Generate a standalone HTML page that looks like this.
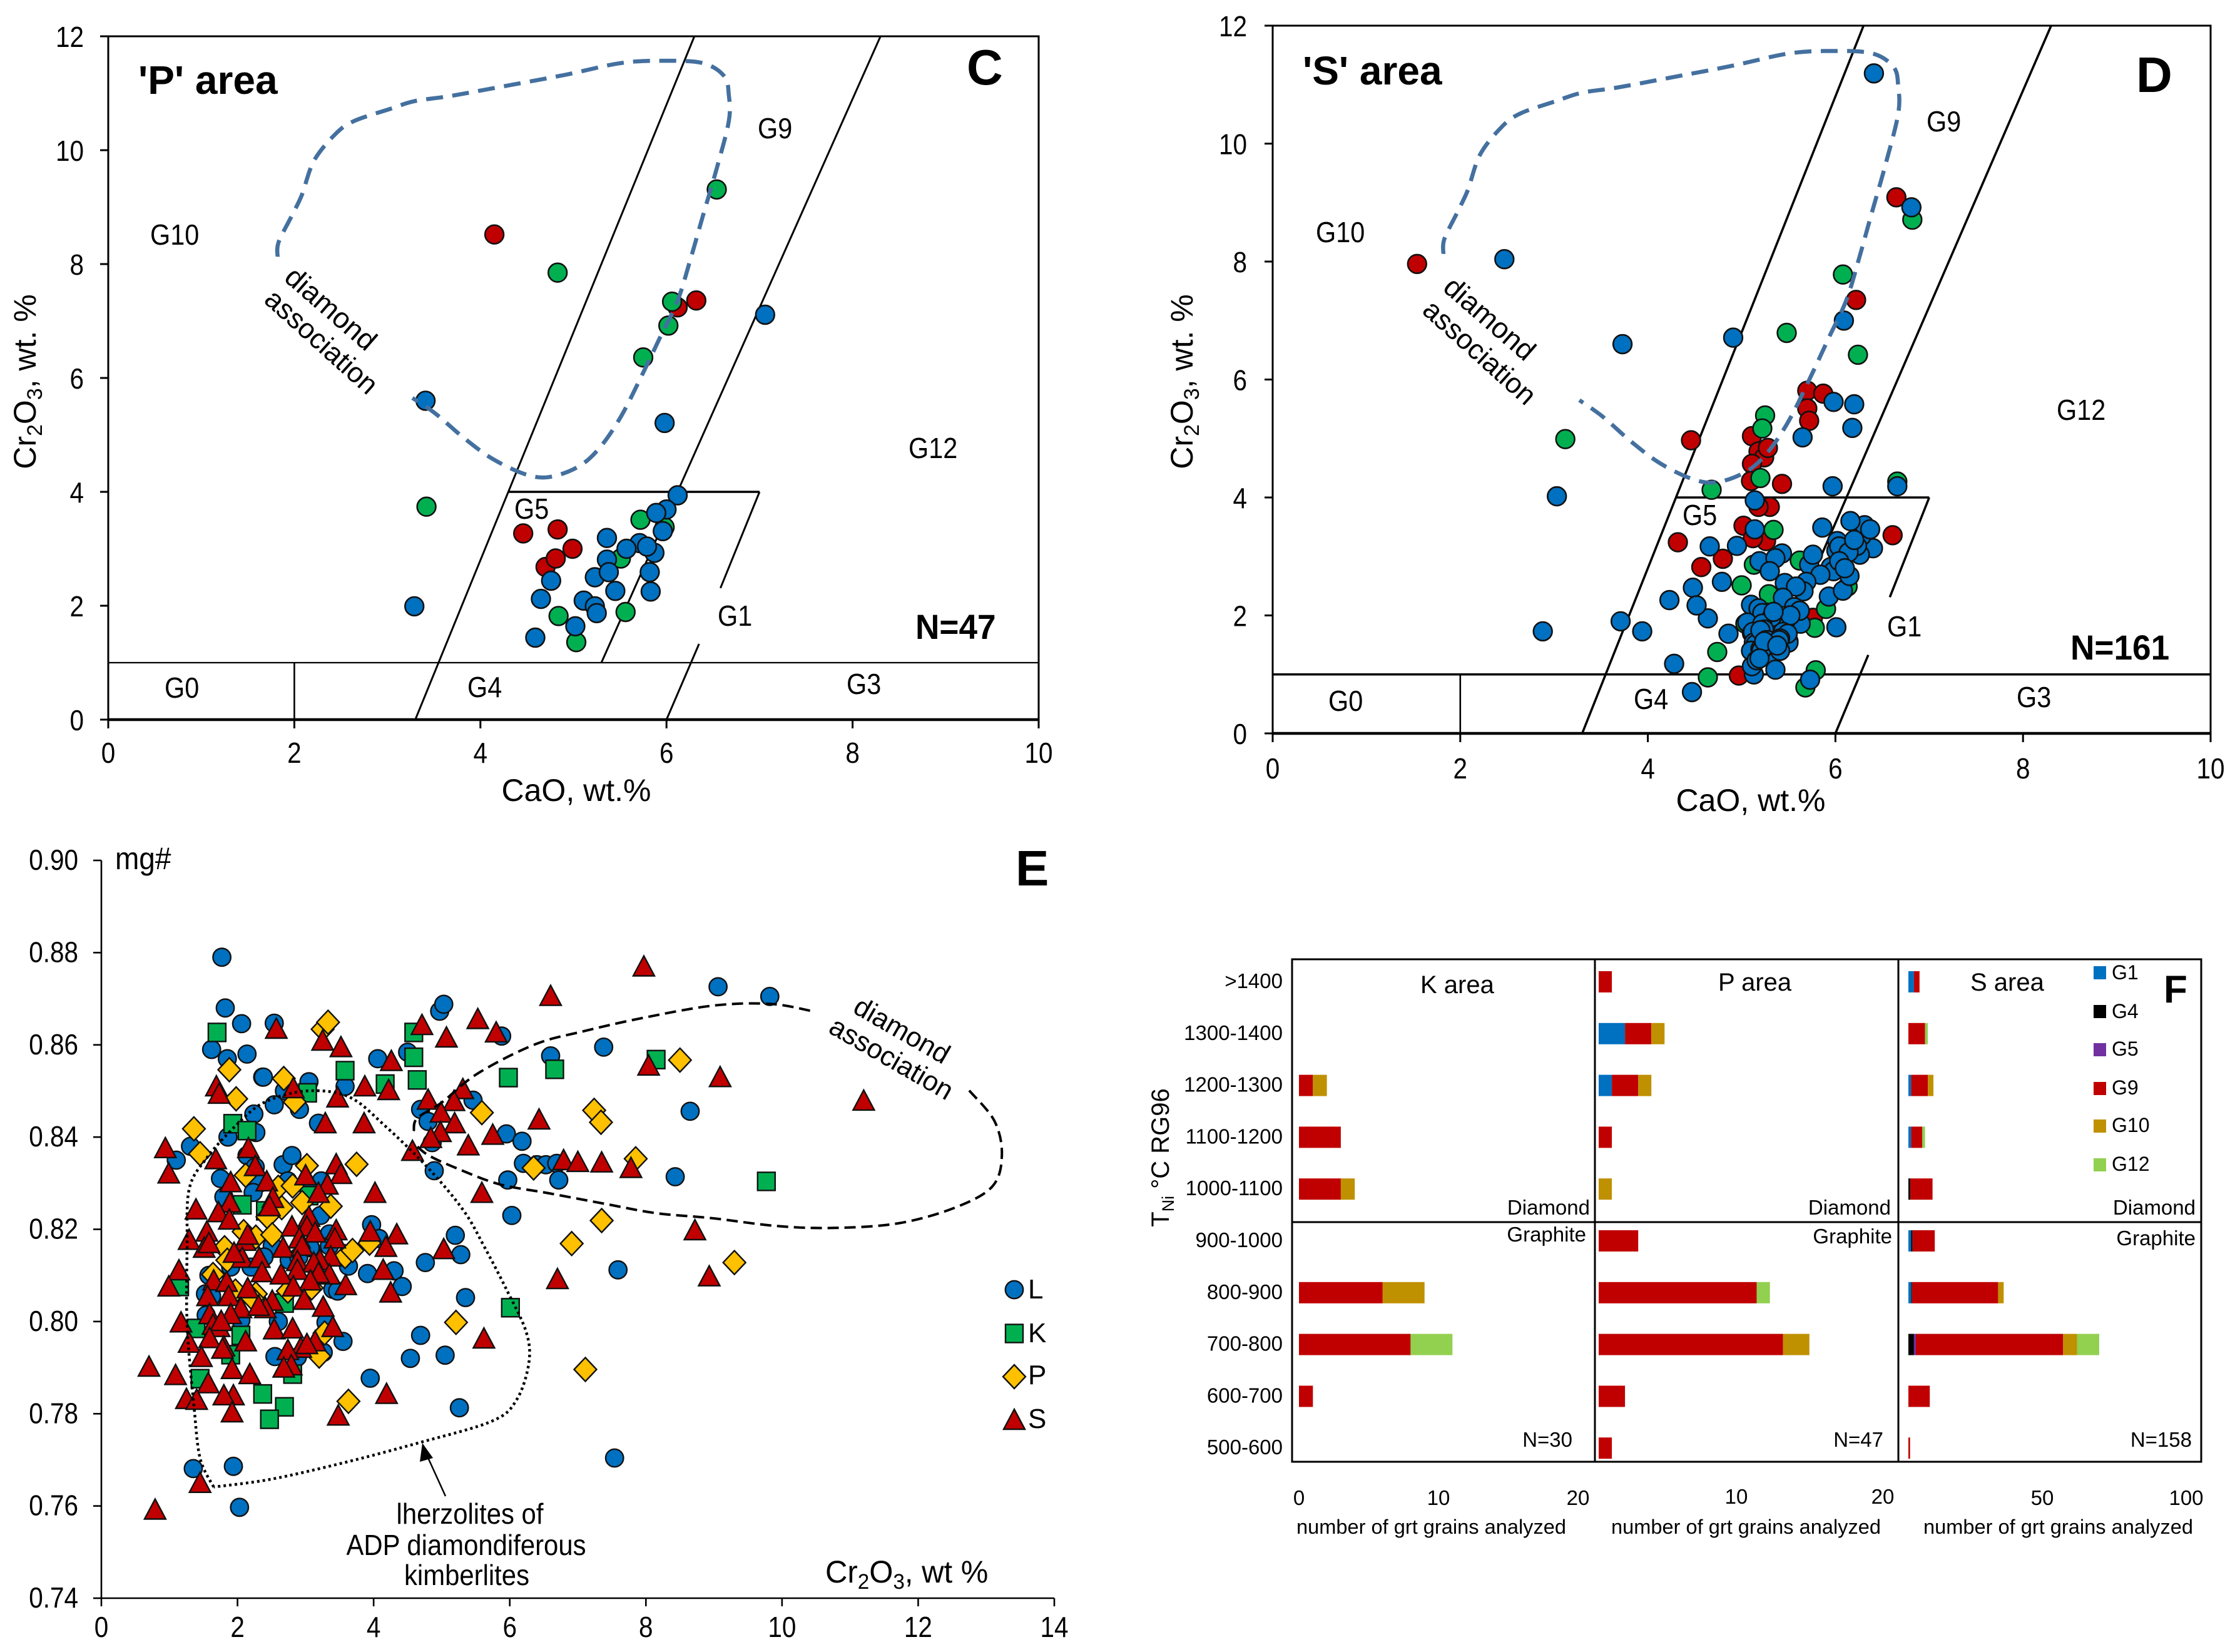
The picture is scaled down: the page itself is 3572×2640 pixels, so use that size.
<!DOCTYPE html>
<html lang="en">
<head>
<meta charset="utf-8">
<title>Garnet geochemistry panels C, D, E and F</title>
<style>
html,body{margin:0;padding:0;background:#fff;}
svg{display:block;}
text{font-family:"Liberation Sans",Arial,sans-serif;fill:#000;}
.b{font-weight:bold;}
</style>
</head>
<body>
<svg id="fig" xmlns="http://www.w3.org/2000/svg" width="3572" height="2640" viewBox="0 0 3572 2640">
<rect x="0" y="0" width="3572" height="2640" fill="#fff"/>

<g id="panelC">
  <g id="cAxes"></g>
  <g id="cMarks"></g>
  <g id="cCurve"></g>
  <text class="b" x="221" y="150" font-size="64">'P' area</text>
  <text class="b" x="1545" y="135" font-size="80">C</text>
  <text class="b" transform="translate(1463,1021) scale(.95,1)" font-size="56">N=47</text>
  <text transform="translate(1211,221) scale(.9,1)" font-size="46">G9</text>
  <text transform="translate(240,391) scale(.9,1)" font-size="46">G10</text>
  <text transform="translate(1452,732) scale(.9,1)" font-size="46">G12</text>
  <text transform="translate(822,829) scale(.9,1)" font-size="46">G5</text>
  <text transform="translate(1147,1000) scale(.9,1)" font-size="46">G1</text>
  <text transform="translate(263,1115) scale(.9,1)" font-size="46">G0</text>
  <text transform="translate(747,1114) scale(.9,1)" font-size="46">G4</text>
  <text transform="translate(1353,1109) scale(.9,1)" font-size="46">G3</text>
  <text x="921" y="1280" text-anchor="middle" font-size="50">CaO, wt.%</text>
  <text transform="translate(57,610) rotate(-90)" text-anchor="middle" font-size="50">Cr<tspan dy="10" font-size="34">2</tspan><tspan dy="-10">O</tspan><tspan dy="10" font-size="34">3</tspan><tspan dy="-10">, wt. %</tspan></text>
  <text transform="translate(452,447) rotate(41)" font-size="46">diamond</text>
  <text transform="translate(420,482) rotate(42)" font-size="45">association</text>
</g>

<g id="panelD">
  <g id="dAxes"></g>
  <g id="dMarks"></g>
  <g id="dCurve"></g>
  <text class="b" x="2082" y="135" font-size="64">'S' area</text>
  <text class="b" x="3414" y="147" font-size="80">D</text>
  <text class="b" transform="translate(3309,1054) scale(.95,1)" font-size="56">N=161</text>
  <text transform="translate(3079,210) scale(.9,1)" font-size="46">G9</text>
  <text transform="translate(2103,387) scale(.9,1)" font-size="46">G10</text>
  <text transform="translate(3287,671) scale(.9,1)" font-size="46">G12</text>
  <text transform="translate(2689,839) scale(.9,1)" font-size="46">G5</text>
  <text transform="translate(3016,1017) scale(.9,1)" font-size="46">G1</text>
  <text transform="translate(2123,1136) scale(.9,1)" font-size="46">G0</text>
  <text transform="translate(2611,1133) scale(.9,1)" font-size="46">G4</text>
  <text transform="translate(3223,1130) scale(.9,1)" font-size="46">G3</text>
  <text x="2798" y="1296" text-anchor="middle" font-size="50">CaO, wt.%</text>
  <text transform="translate(1906,610) rotate(-90)" text-anchor="middle" font-size="50">Cr<tspan dy="10" font-size="34">2</tspan><tspan dy="-10">O</tspan><tspan dy="10" font-size="34">3</tspan><tspan dy="-10">, wt. %</tspan></text>
  <text transform="translate(2304,463) rotate(41)" font-size="46">diamond</text>
  <text transform="translate(2271,499) rotate(42)" font-size="45">association</text>
</g>

<g id="panelE">
  <g id="eAxes"></g>
  <g id="eMarks"></g>
  <g id="eCurve"></g>
  <text transform="translate(184,1389) scale(.92,1)" font-size="50">mg#</text>
  <text class="b" x="1623" y="1415" font-size="80">E</text>
  <text transform="translate(1319,2529) scale(.98,1)" font-size="50">Cr<tspan dy="10" font-size="34">2</tspan><tspan dy="-10">O</tspan><tspan dy="10" font-size="34">3</tspan><tspan dy="-10">, wt %</tspan></text>
  <text transform="translate(751,2435) scale(.91,1)" text-anchor="middle" font-size="46">lherzolites of</text>
  <text transform="translate(745,2485) scale(.91,1)" text-anchor="middle" font-size="46">ADP diamondiferous</text>
  <text transform="translate(746,2533) scale(.91,1)" text-anchor="middle" font-size="46">kimberlites</text>
  <text transform="translate(1361,1617) rotate(30)" font-size="44">diamond</text>
  <text transform="translate(1322,1649) rotate(30)" font-size="44">association</text>
  <line x1="712" y1="2391" x2="682" y2="2325" stroke="#000" stroke-width="2.5"/>
  <polygon points="675,2306 692,2330 671,2336" fill="#000"/>
  <g id="eLegend">
    <text x="1643" y="2075" font-size="44">L</text>
    <text x="1643" y="2145" font-size="44">K</text>
    <text x="1643" y="2212" font-size="44">P</text>
    <text x="1643" y="2282" font-size="44">S</text>
  </g>
</g>

<g id="panelF">
  <g id="fBars"></g>
  <rect x="2065" y="1533" width="1453" height="803" fill="none" stroke="#000" stroke-width="3"/>
  <line x1="2549" y1="1533" x2="2549" y2="2336" stroke="#000" stroke-width="3"/>
  <line x1="3034" y1="1533" x2="3034" y2="2336" stroke="#000" stroke-width="3"/>
  <line x1="2065" y1="1953" x2="3518" y2="1953" stroke="#000" stroke-width="3"/>
  <g id="fAxes"></g>
  <text transform="translate(1868,1850) rotate(-90)" text-anchor="middle" font-size="40">T<tspan dy="8" font-size="27">Ni</tspan><tspan dy="-8"> °C RG96</tspan></text>
  <text x="2270" y="1587" font-size="40">K area</text>
  <text x="2746" y="1583" font-size="40">P area</text>
  <text x="3149" y="1583" font-size="40">S area</text>
  <text class="b" x="3458" y="1602" font-size="62">F</text>
  <text x="2541" y="1941" text-anchor="end" font-size="33">Diamond</text>
  <text x="3022" y="1941" text-anchor="end" font-size="33">Diamond</text>
  <text x="3509" y="1941" text-anchor="end" font-size="33">Diamond</text>
  <text x="2535" y="1984" text-anchor="end" font-size="33">Graphite</text>
  <text x="3024" y="1987" text-anchor="end" font-size="33">Graphite</text>
  <text x="3509" y="1990" text-anchor="end" font-size="33">Graphite</text>
  <text x="2513" y="2312" text-anchor="end" font-size="33">N=30</text>
  <text x="3010" y="2312" text-anchor="end" font-size="33">N=47</text>
  <text x="3503" y="2312" text-anchor="end" font-size="33">N=158</text>
  <text x="2072" y="2451" font-size="32.6">number of grt grains analyzed</text>
  <text x="2575" y="2451" font-size="32.6">number of grt grains analyzed</text>
  <text x="3074" y="2451" font-size="32.6">number of grt grains analyzed</text>
  <g id="fLegend">
    <rect x="3346" y="1544" width="20" height="21" fill="#0070C0"/>
    <text x="3375" y="1565" font-size="32">G1</text>
    <rect x="3346" y="1606" width="20" height="21" fill="#000"/>
    <text x="3375" y="1627" font-size="32">G4</text>
    <rect x="3346" y="1667" width="20" height="21" fill="#7030A0"/>
    <text x="3375" y="1687" font-size="32">G5</text>
    <rect x="3346" y="1729" width="20" height="21" fill="#C00000"/>
    <text x="3375" y="1749" font-size="32">G9</text>
    <rect x="3346" y="1789" width="20" height="21" fill="#BF9000"/>
    <text x="3375" y="1809" font-size="32">G10</text>
    <rect x="3346" y="1851" width="20" height="21" fill="#92D050"/>
    <text x="3375" y="1871" font-size="32">G12</text>
  </g>
</g>
</svg>

<script>
// ---------- Shared axis tick data ----------
const cdXTicks = [0, 2, 4, 6, 8, 10];
const cdYTicks = [0, 2, 4, 6, 8, 10, 12];
const eXTicks = [0, 2, 4, 6, 8, 10, 12, 14];
const eYTicks = [0.74, 0.76, 0.78, 0.80, 0.82, 0.84, 0.86, 0.88, 0.90];

// ---------- Panel C series [CaO, Cr2O3] ----------
const cRed = [[4.15,8.52],[6.32,7.36],[6.12,7.24],[4.46,3.27],[4.83,3.34],[4.99,3.0],[4.70,2.68],[4.81,2.83]];
const cGreen = [[6.54,9.31],[4.83,7.85],[6.06,7.34],[6.02,6.92],[5.75,6.36],[3.42,3.74],[5.72,3.51],[5.98,3.38],[5.51,2.83],[5.56,1.89],[4.84,1.82],[5.03,1.36]];
const cBlue = [[7.06,7.11],[3.41,5.6],[5.98,5.21],[6.12,3.94],[6.0,3.69],[5.89,3.63],[5.96,3.31],[5.36,3.19],[5.71,3.1],[5.57,3.0],[5.87,2.93],[5.79,3.04],[5.36,2.81],[5.82,2.59],[5.23,2.5],[5.38,2.59],[4.76,2.44],[5.45,2.26],[5.83,2.25],[4.65,2.12],[5.11,2.09],[5.23,1.99],[5.25,1.87],[3.29,1.99],[5.02,1.64],[4.59,1.44]];

// ---------- Panel D series [CaO, Cr2O3] ----------
const dRed = [[1.54,7.96],[6.65,9.09],[6.22,7.35],[5.70,5.81],[5.87,5.76],[5.70,5.51],[5.72,5.30],[4.46,4.97],[5.11,5.04],[5.18,4.78],[5.24,4.68],[5.28,4.84],[5.11,4.57],[5.10,4.28],[5.43,4.23],[5.30,3.84],[5.18,3.84],[5.02,3.52],[5.26,3.26],[5.12,3.31],[4.32,3.24],[6.61,3.36],[4.80,2.96],[4.57,2.82],[5.76,1.96],[4.97,0.98]];
const dGreen = [[6.82,8.71],[6.08,7.78],[5.48,6.79],[6.24,6.42],[5.25,5.39],[5.22,5.17],[3.12,4.99],[5.2,4.33],[4.68,4.13],[6.66,4.27],[5.34,3.45],[5.13,2.86],[5.62,2.93],[5.0,2.51],[5.29,2.36],[6.13,2.49],[5.90,2.11],[5.04,1.86],[5.78,1.79],[4.74,1.38],[5.79,1.07],[4.64,0.95],[5.68,0.78]];
const dBlue = [[6.41,11.19],[6.81,8.92],[2.47,8.04],[6.09,7.0],[3.73,6.6],[4.91,6.71],[5.98,5.62],[6.2,5.58],[6.18,5.18],[5.65,5.02],[5.97,4.19],[6.66,4.19],[3.03,4.02],[5.14,3.95],[5.14,3.46],[4.66,3.17],[4.95,3.18],[5.43,3.05],[5.19,2.92],[5.36,2.97],[5.30,2.75],[4.79,2.57],[4.48,2.47],[4.64,1.95],[4.52,2.17],[4.23,2.26],[3.71,1.90],[3.94,1.73],[2.88,1.73],[4.28,1.18],[4.47,0.70],[4.86,1.69],[6.01,1.80],[5.73,0.91],[5.86,3.49],[6.28,3.21],[6.40,3.14],[6.28,3.35],[6.26,3.03],[6.31,3.53],[6.16,3.6],[6.37,3.46],[6.23,3.18],[6.02,3.26],[6.01,3.10],[6.04,3.17],[5.95,2.82],[5.72,2.86],[5.76,3.03],[5.98,2.75],[6.14,3.07],[6.20,3.28],[5.93,2.32],[6.08,2.42],[6.15,2.67],[5.84,2.69],[6.04,2.92],[6.10,2.80],[5.69,2.57],[5.46,2.55],[5.66,2.41],[5.58,2.49],[5.44,2.30],[5.63,1.86],[5.56,2.14],[5.47,1.91],[5.62,2.08],[5.52,2.00],[5.10,2.18],[5.18,2.12],[5.22,2.04],[5.32,1.97],[5.06,1.88],[5.22,1.86],[5.11,1.70],[5.12,1.72],[5.24,1.76],[5.44,1.72],[5.13,1.54],[5.15,1.51],[5.38,1.47],[5.50,1.56],[5.50,1.54],[5.49,1.69],[5.20,1.75],[5.10,1.40],[5.30,1.35],[5.2,1.43],[5.21,1.40],[5.41,1.40],[5.34,2.06],[5.26,1.58],[5.28,1.58],[5.41,1.61],[5.40,1.58],[5.24,1.56],[5.38,1.49],[5.13,1.0],[5.11,1.14],[5.16,1.24],[5.19,1.27],[5.36,1.08]];

// ---------- Diamond association outline shared by C and D ----------
const diamondFieldCao = [1.82,1.83,1.97,2.08,2.21,2.44,2.64,3.02,3.29,3.67,4.21,4.9,5.51,5.97,6.39,6.62,6.67,6.67,6.54,6.39,6.26,6.12,5.93,5.74,5.51,5.28,5.05,4.74,4.48,4.13,3.82,3.52,3.27];
const diamondFieldCr = [8.13,8.38,8.84,9.21,9.81,10.28,10.51,10.72,10.86,10.95,11.11,11.32,11.53,11.57,11.53,11.3,10.97,10.51,9.68,8.84,8.1,7.36,6.71,6.06,5.32,4.77,4.44,4.26,4.31,4.58,4.95,5.37,5.65];

// ---------- Panel E series [Cr2O3, mg#] ----------
const eL = [[2.37,.853],[3.05,.852],[2.69,.850],[2.54,.847],[2.91,.846],[3.58,.851],[2.24,.845],[3.19,.843],[1.86,.840],[2.27,.841],[1.31,.838],[1.10,.835],[2.14,.836],[2.67,.834],[2.80,.836],[1.75,.831],[2.26,.8335],[2.32,.830],[2.23,.828],[1.80,.827],[2.74,.8305],[3.23,.8305],[3.04,.829],[3.22,.823],[3.35,.819],[3.35,.8164],[3.63,.812],[3.97,.821],[4.08,.818],[2.51,.8164],[2.39,.814],[2.20,.8118],[1.90,.8118],[2.76,.8133],[2.90,.814],[3.07,.816],[1.58,.810],[1.53,.806],[1.62,.8055],[3.40,.807],[3.47,.8066],[3.91,.8104],[4.30,.811],[4.42,.8076],[4.76,.8128],[5.20,.8187],[5.28,.8145],[5.35,.8052],[4.69,.797],[4.54,.792],[5.05,.7927],[3.95,.7877],[5.26,.7813],[3.55,.7957],[2.60,.8],[3.26,.7933],[3.30,.7998],[1.54,.8014],[2.05,.8003],[2.55,.7924],[2.88,.7923],[4.69,.846],[4.80,.8434],[5.46,.848],[4.86,.8388],[4.89,.8327],[5.97,.8307],[6.03,.823],[5.95,.8407],[6.18,.8391],[6.2,.8343],[6.4,.834],[6.53,.834],[6.69,.8343],[6.72,.8307],[7.59,.8112],[1.77,.879],[1.82,.868],[2.06,.8646],[2.54,.8647],[1.62,.859],[1.85,.857],[2.14,.858],[2.38,.853],[4.97,.8673],[5.03,.8688],[5.88,.8619],[4.5,.8584],[4.06,.857],[7.38,.8595],[6.6,.8576],[9.06,.8726],[9.82,.8705],[8.65,.8456],[8.43,.8314],[7.54,.7704],[1.35,.7681],[1.94,.7686],[2.03,.7597]];
const eK = [[1.70,.8627],[3.58,.8544],[3.03,.8496],[4.17,.8515],[4.59,.8627],[4.59,.8573],[4.64,.8524],[5.98,.8529],[6.66,.8547],[8.15,.8568],[9.77,.8304],[6.01,.803],[1.93,.8429],[2.14,.8414],[2.07,.8253],[2.41,.8240],[3.05,.8273],[1.15,.8076],[2.69,.8040],[1.39,.7985],[2.05,.7970],[1.9,.7928],[2.81,.7886],[1.45,.7876],[2.37,.7843],[2.69,.7815],[2.47,.7788]];
const eP = [[3.25,.8634],[3.33,.8649],[1.88,.8546],[2.68,.8527],[1.98,.8483],[2.84,.8476],[1.36,.8418],[1.45,.8364],[2.12,.8317],[3.02,.8338],[3.75,.8341],[2.60,.8291],[2.81,.8294],[2.65,.8247],[2.44,.8227],[2.95,.8258],[3.37,.825],[2.09,.8195],[2.27,.8183],[2.51,.8188],[1.81,.816],[1.85,.8133],[3.58,.8141],[3.69,.8154],[3.94,.817],[1.64,.8102],[1.97,.8066],[2.27,.8060],[2.74,.8066],[3.09,.8073],[2.22,.805],[3.28,.7975],[3.2,.7925],[3.63,.7827],[5.21,.7998],[7.11,.7896],[7.35,.8219],[6.91,.8169],[5.59,.8453],[7.24,.8458],[7.34,.8432],[6.35,.8333],[8.5,.8567],[7.85,.8353],[9.3,.8128]];
const eS = [[1.69,.851],[1.73,.8494],[2.82,.8506],[3.47,.8486],[3.87,.851],[4.22,.8502],[3.29,.843],[3.86,.843],[4.80,.8481],[5.31,.8504],[5.18,.8478],[4.99,.8453],[5.19,.843],[4.98,.8411],[4.84,.8398],[4.57,.837],[5.75,.8405],[5.39,.8382],[6.43,.8438],[6.79,.835],[7.0,.8346],[7.35,.8345],[5.59,.8279],[4.02,.8279],[.94,.8376],[.99,.8321],[1.68,.8352],[2.16,.8376],[2.26,.8337],[1.90,.8302],[2.43,.8304],[3.0,.8317],[3.45,.8341],[3.52,.832],[3.32,.8297],[3.19,.8279],[2.52,.8268],[2.47,.825],[1.89,.8258],[1.39,.8243],[1.72,.8237],[1.88,.8221],[3.05,.8227],[2.8,.8206],[3.02,.8206],[3.14,.8193],[3.45,.8198],[3.43,.818],[3.95,.8195],[4.34,.8189],[1.55,.8195],[1.29,.8177],[2.11,.8175],[2.15,.8188],[1.51,.816],[1.58,.817],[2.91,.818],[2.67,.816],[2.95,.8164],[4.18,.8162],[5.03,.8157],[2.07,.8138],[1.95,.8149],[2.32,.8138],[3.37,.8141],[2.88,.8131],[3.21,.8133],[3.12,.8128],[4.14,.8112],[2.88,.8112],[2.36,.8107],[2.64,.8102],[3.35,.8102],[3.19,.8105],[1.14,.8111],[.99,.8076],[1.65,.8089],[1.84,.8086],[3.07,.8089],[2.82,.8076],[3.59,.8079],[2.15,.8072],[1.56,.8055],[1.87,.8055],[4.25,.8063],[2.98,.8047],[2.51,.8045],[2.05,.8029],[2.41,.8029],[2.31,.8034],[3.26,.8032],[1.59,.8016],[1.90,.8016],[1.17,.7998],[1.64,.7993],[1.73,.7988],[1.76,.8001],[2.54,.7983],[2.81,.7985],[3.40,.7988],[2.12,.7957],[1.59,.7964],[1.29,.7954],[1.80,.7946],[1.78,.7941],[3.14,.7957],[2.93,.7943],[3.02,.7951],[2.74,.7938],[1.47,.7923],[2.79,.7905],[2.68,.79],[.70,.7902],[1.09,.7884],[1.92,.7897],[2.18,.7886],[1.57,.7866],[1.94,.784],[1.80,.784],[1.25,.7832],[1.40,.783],[1.92,.7803],[4.19,.7843],[3.48,.7796],[5.62,.7963],[6.70,.8092],[1.45,.765],[.79,.7592],[2.57,.8635],[3.25,.8609],[3.52,.8595],[4.71,.8643],[5.07,.8616],[5.53,.8656],[5.80,.8627],[6.6,.8706],[7.97,.877],[11.2,.8479],[9.09,.853],[8.04,.8555],[8.72,.8198],[8.93,.8098],[7.78,.8333],[4.26,.8565]];

// ---------- Panel E outlines ----------
const lherzCr = [1.65,1.45,1.36,1.26,1.26,1.29,1.55,1.97,2.39,3.02,3.64,4.17,4.8,5.32,5.63,5.95,6.24,6.28,6.1,5.74,4.69,3.54,2.49,1.65];
const lherzMg = [.7641,.7704,.7818,.799,.8161,.8287,.8355,.8424,.8475,.85,.8487,.8424,.8333,.8241,.8161,.807,.7978,.791,.783,.7784,.7738,.7693,.7658,.7641];
const eDiamondTopCr = [4.59,4.64,5.0,5.53,6.37,7.1,7.94,8.98,9.82,10.45];
const eDiamondTopMg = [.8413,.8441,.8475,.8538,.8601,.863,.8658,.8685,.8689,.8673];
const eDiamondLowCr = [12.75,13.12,13.23,13.09,12.54,11.71,10.76,9.93,8.98,8.15,7.41,6.58,5.84,5.21,4.8,4.61];
const eDiamondLowMg = [.8501,.8435,.8361,.8293,.8247,.8213,.8203,.8207,.8224,.8235,.8255,.8278,.8298,.8333,.8361,.8384];

// ---------- Panel F data ----------
const fRows = ['>1400','1300-1400','1200-1300','1100-1200','1000-1100','900-1000','800-900','700-800','600-700','500-600'];
const fGroups = ['G1','G4','G5','G9','G10','G12'];
const fColors = ['#0070C0','#000000','#7030A0','#C00000','#BF9000','#92D050'];
const fKValues = [[0,0,0,0,0,0],[0,0,0,0,0,0],[0,0,0,1,1,0],[0,0,0,3,0,0],[0,0,0,3,1,0],[0,0,0,0,0,0],[0,0,0,6,3,0],[0,0,0,8,0,3],[0,0,0,1,0,0],[0,0,0,0,0,0]];
const fPValues = [[0,0,0,1,0,0],[2,0,0,2,1,0],[1,0,0,2,1,0],[0,0,0,1,0,0],[0,0,0,0,1,0],[0,0,0,3,0,0],[0,0,0,12,0,1],[0,0,0,14,2,0],[0,0,0,2,0,0],[0,0,0,1,0,0]];
const fSValues = [[2,0,0,2,0,0],[0,0,0,6,0,1],[1,0,0,6,2,0],[1,0,0,4,0,1],[0,0.7,0,8,0,0],[1,0.5,0,8,0,0],[1,0.3,0,31,2,0],[0,2,0.7,53,5,8],[0,0,0,7.7,0,0],[0,0,0,0.6,0,0]];
const fKTicks = [0,10,20];
const fPTicks = [10,20];
const fSTicks = [50,100];

// ---------- Drawing helpers ----------
const NS = 'http://www.w3.org/2000/svg';
function mk(tag, parent, attrs) {
  const el = document.createElementNS(NS, tag);
  for (const k in attrs) el.setAttribute(k, attrs[k]);
  parent.appendChild(el);
  return el;
}
function linear(d0, d1, p0, p1) { return v => p0 + (v - d0) * (p1 - p0) / (d1 - d0); }
function smoothPath(xs, ys) {
  let d = 'M' + xs[0].toFixed(1) + ' ' + ys[0].toFixed(1);
  const n = xs.length;
  for (let i = 0; i < n - 1; i++) {
    const a = Math.max(i - 1, 0), b = Math.min(i + 2, n - 1);
    const c1x = xs[i] + (xs[i + 1] - xs[a]) / 6, c1y = ys[i] + (ys[i + 1] - ys[a]) / 6;
    const c2x = xs[i + 1] - (xs[b] - xs[i]) / 6, c2y = ys[i + 1] - (ys[b] - ys[i]) / 6;
    d += ' C' + c1x.toFixed(1) + ' ' + c1y.toFixed(1) + ' ' + c2x.toFixed(1) + ' ' + c2y.toFixed(1) + ' ' + xs[i + 1].toFixed(1) + ' ' + ys[i + 1].toFixed(1);
  }
  return d;
}
function tickLabel(parent, x, y, str, anchor, size, sx) {
  const t = mk('text', parent, {transform: 'translate(' + x + ',' + y + ') scale(' + sx + ',1)', 'text-anchor': anchor, 'font-size': size});
  
  
  t.textContent = str;
}
function drawTick(parent, x1, y1, x2, y2, w) {
  const l = mk('line', parent, {x1: x1, y1: y1, x2: x2, y2: y2, stroke: '#000', 'stroke-width': w});
  
  
}
function fieldLine(parent, sx, sy, a, b, c, d, w) {
  const l = mk('line', parent, {x1: sx(a), y1: sy(b), x2: sx(c), y2: sy(d), stroke: '#000', 'stroke-width': w, 'stroke-linecap': 'butt'});
  
  
}
function dot(parent, x, y, fill, name) {
  const c = mk('circle', parent, {cx: x.toFixed(1), cy: y.toFixed(1), r: 14.9, fill: fill, stroke: '#111', 'stroke-width': 2.6});
  
  
}

// ---------- Panels C and D ----------
function drawComposition(ids, box, xLabelY, yLabelX, series) {
  const sx = linear(0, 10, box.x0, box.x1);
  const sy = linear(0, 12, box.y0, box.y1);
  const ax = document.getElementById(ids.axes);
  const frame = mk('rect', ax, {x: box.x0, y: box.y1, width: box.x1 - box.x0, height: box.y0 - box.y1, fill: 'none', stroke: '#000', 'stroke-width': 3});
  
  
  const base = mk('line', ax, {x1: box.x0, y1: box.y0, x2: box.x1, y2: box.y0, stroke: '#000', 'stroke-width': 4.5});
  
  
  cdXTicks.forEach(v => {
    drawTick(ax, sx(v), box.y0, sx(v), box.y0 + 14, 3);
    tickLabel(ax, sx(v), xLabelY, String(v), 'middle', 46, 0.88);
  });
  cdYTicks.forEach(v => {
    drawTick(ax, box.x0 - 13, sy(v), box.x0, sy(v), 3);
    tickLabel(ax, yLabelX, sy(v) + 17, String(v), 'end', 46, 0.88);
  });
  fieldLine(ax, sx, sy, 0, 1, 10, 1, box.oneW);
  fieldLine(ax, sx, sy, 2, 0, 2, 1, 2.6);
  fieldLine(ax, sx, sy, 3.3, 0, 6.3, 12, box.fieldW);
  fieldLine(ax, sx, sy, 5.3, 1, 8.3, 12, box.fieldW);
  fieldLine(ax, sx, sy, 4.3, 4, 7, 4, 3.6);
  fieldLine(ax, sx, sy, 6, 0, 6.35, 1.33, box.fieldW);
  fieldLine(ax, sx, sy, 6.58, 2.31, 7, 4, box.fieldW);
  const g = document.getElementById(ids.marks);
  series.red.forEach(p => dot(g, sx(p[0]), sy(p[1]), '#C00000', 'red-point'));
  series.green.forEach(p => dot(g, sx(p[0]), sy(p[1]), '#00B050', 'green-point'));
  series.blue.forEach(p => dot(g, sx(p[0]), sy(p[1]), '#0070C0', 'blue-point'));
  const cv = mk('path', document.getElementById(ids.curve), {
    d: smoothPath(diamondFieldCao.map(sx), diamondFieldCr.map(sy)),
    fill: 'none', stroke: '#44709F', 'stroke-width': 6.5, 'stroke-dasharray': '27 15'
  });
  
  
}
drawComposition({axes: 'cAxes', marks: 'cMarks', curve: 'cCurve'},
  {x0: 173, x1: 1660, y0: 1150, y1: 58, oneW: 2.2, fieldW: 3}, 1219, 134,
  {red: cRed, green: cGreen, blue: cBlue});
drawComposition({axes: 'dAxes', marks: 'dMarks', curve: 'dCurve'},
  {x0: 2034, x1: 3533, y0: 1172, y1: 41, oneW: 3.6, fieldW: 3.6}, 1244, 1993,
  {red: dRed, green: dGreen, blue: dBlue});

// ---------- Panel E ----------
(function () {
  const sx = linear(0, 14, 162, 1685);
  const sy = linear(0.74, 0.90, 2554, 1375);
  const ax = document.getElementById('eAxes');
  const xl = mk('line', ax, {x1: 162, y1: sy(0.74), x2: 1685, y2: sy(0.74), stroke: '#000', 'stroke-width': 2.6});
  
  
  const yl = mk('line', ax, {x1: 162, y1: sy(0.90), x2: 162, y2: sy(0.74), stroke: '#000', 'stroke-width': 2.6});
  
  
  eXTicks.forEach(v => {
    drawTick(ax, sx(v), sy(0.74), sx(v), sy(0.74) + 13, 2.6);
    tickLabel(ax, sx(v), 2616, String(v), 'middle', 46, 0.88);
  });
  eYTicks.forEach(v => {
    drawTick(ax, 149, sy(v), 162, sy(v), 2.6);
    tickLabel(ax, 125, sy(v) + 15, v.toFixed(2), 'end', 46, 0.88);
  });
  const g = document.getElementById('eMarks');
  const S = '#111';
  function circle(par, x, y) {
    const e = mk('circle', par, {cx: x.toFixed(1), cy: y.toFixed(1), r: 14.2, fill: '#0070C0', stroke: S, 'stroke-width': 2.4});
    
    
  }
  function square(par, x, y) {
    const e = mk('rect', par, {x: (x - 14).toFixed(1), y: (y - 14.5).toFixed(1), width: 28, height: 29, fill: '#00B050', stroke: S, 'stroke-width': 2.4});
    
    
  }
  function diamond(par, x, y) {
    const pts = [[x, y - 19], [x + 18, y], [x, y + 19], [x - 18, y]].map(q => q[0].toFixed(1) + ',' + q[1].toFixed(1)).join(' ');
    const e = mk('polygon', par, {points: pts, fill: '#FFC000', stroke: S, 'stroke-width': 2.4});
    
    
  }
  function triangle(par, x, y) {
    const pts = [[x, y - 17], [x + 17, y + 15], [x - 17, y + 15]].map(q => q[0].toFixed(1) + ',' + q[1].toFixed(1)).join(' ');
    const e = mk('polygon', par, {points: pts, fill: '#C00000', stroke: S, 'stroke-width': 2.4});
    
    
  }
  eL.forEach(p => circle(g, sx(p[0]), sy(p[1])));
  eK.forEach(p => square(g, sx(p[0]), sy(p[1])));
  eP.forEach(p => diamond(g, sx(p[0]), sy(p[1])));
  eS.forEach(p => triangle(g, sx(p[0]), sy(p[1])));
  const lg = document.getElementById('eLegend');
  circle(lg, 1621, 2061);
  square(lg, 1621, 2131);
  diamond(lg, 1621, 2200);
  triangle(lg, 1621, 2269);
  const cg = document.getElementById('eCurve');
  const c1 = mk('path', cg, {d: smoothPath(lherzCr.map(sx), lherzMg.map(sy)), fill: 'none', stroke: '#000', 'stroke-width': 4.5, 'stroke-dasharray': '4 5'});
  
  
  const c2 = mk('path', cg, {d: smoothPath(eDiamondTopCr.map(sx), eDiamondTopMg.map(sy)), fill: 'none', stroke: '#000', 'stroke-width': 4, 'stroke-dasharray': '18 9'});
  
  
  const c3 = mk('path', cg, {d: smoothPath(eDiamondLowCr.map(sx), eDiamondLowMg.map(sy)), fill: 'none', stroke: '#000', 'stroke-width': 4, 'stroke-dasharray': '18 9'});
  
  
})();

// ---------- Panel F ----------
(function () {
  const rowY = i => 1569 + i * 82.8;
  const barH = 34;
  const panels = [
    {values: fKValues, x0: 2076, unit: 22.3, ticks: fKTicks, tick0: 2076, tickUnit: 22.3, tickY: 2405},
    {values: fPValues, x0: 2555, unit: 21.05, ticks: fPTicks, tick0: 2541, tickUnit: 23.4, tickY: 2403},
    {values: fSValues, x0: 3050, unit: 4.44, ticks: fSTicks, tick0: 3034, tickUnit: 4.6, tickY: 2405}
  ];
  const bars = document.getElementById('fBars');
  const ax = document.getElementById('fAxes');
  panels.forEach(pn => {
    const sx = v => pn.x0 + v * pn.unit;
    const tx = v => pn.tick0 + v * pn.tickUnit;
    pn.values.forEach((row, i) => {
      let cum = 0;
      row.forEach((v, j) => {
        if (v <= 0) return;
        const r = mk('rect', bars, {x: sx(cum).toFixed(1), y: (rowY(i) - barH / 2).toFixed(1), width: (sx(cum + v) - sx(cum)).toFixed(1), height: barH, fill: fColors[j]});
        
        
        cum += v;
      });
    });
    pn.ticks.forEach(v => {
      tickLabel(ax, tx(v), pn.tickY, String(v), 'middle', 33, 1);
    });
  });
  fRows.forEach((lab, i) => {
    tickLabel(ax, 2050, rowY(i) + 10, lab, 'end', 33, 1);
  });
})();
</script>
</body>
</html>
